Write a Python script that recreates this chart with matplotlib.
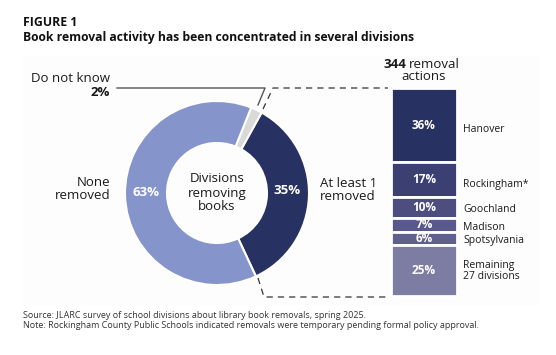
import matplotlib
matplotlib.use('Agg')
import matplotlib.pyplot as plt
from matplotlib.patches import Rectangle

plt.rcParams['font.family'] = ['Open Sans', 'DejaVu Sans']

# donut: share of divisions
donut_labels = ['At least 1 removed', 'Do not know', 'None removed']
donut_values = [35, 2, 63]
donut_colors = ['#283262', '#d9d9d9', '#8595cb']

# stacked bar: 344 removal actions
bar_names = ['Hanover', 'Rockingham*', 'Goochland', 'Madison', 'Spotsylvania', 'Remaining\n27 divisions']
bar_values = [36, 17, 10, 7, 6, 25]
bar_colors = ['#283262', '#3c3f72', '#4d4e7f', '#58588a', '#60608f', '#7d7ca3']

W, H = 556, 355
fig = plt.figure(figsize=(W / 100, H / 100), dpi=100)
ax = fig.add_axes([0, 0, 1, 1])

def Y(y):
    return H - y

# faint panel behind the chart
ax.add_patch(Rectangle((22, Y(305)), 518, 249, facecolor='#fdfdfd', edgecolor='none', zorder=0))

# donut
cx, cy, r = 217, 193, 92
ax.pie(donut_values, colors=donut_colors, center=(cx, Y(cy)), radius=r,
       startangle=-65, counterclock=True,
       wedgeprops=dict(width=42, edgecolor='white', linewidth=1.5))

ax.text(cx, Y(cy), 'Divisions\nremoving\nbooks', ha='center', va='center',
        fontsize=9.5, linespacing=1.1, color='#1a1a1a')
ax.text(146, Y(192), '%d%%' % donut_values[2], ha='center', va='center',
        fontsize=9.5, fontweight='bold', color='white')
ax.text(287, Y(191), '%d%%' % donut_values[0], ha='center', va='center',
        fontsize=9.5, fontweight='bold', color='white')
ax.text(110, Y(189), 'None\nremoved', ha='right', va='center',
        fontsize=9.5, linespacing=1.05, color='#1a1a1a')
ax.text(320, Y(190), 'At least 1\nremoved', ha='left', va='center',
        fontsize=9.5, linespacing=1.05, color='#1a1a1a')
ax.text(110, Y(78), 'Do not know', ha='right', va='center', fontsize=9.5, color='#1a1a1a')
ax.text(110, Y(92), '%d%%' % donut_values[1], ha='right', va='center', fontsize=9.5,
        fontweight='bold', color='#1a1a1a')

# leader for "Do not know"
ax.plot([117, 265, 258], [Y(88), Y(88), Y(105)], color='#555555', lw=1.0, zorder=5)

# dashed connectors to the bar
ax.plot([263, 273, 388], [Y(109), Y(88), Y(88)], color='#333333', lw=0.9, ls=(0, (5, 4)))
ax.plot([258, 264, 388], [Y(278), Y(297), Y(297)], color='#333333', lw=0.9, ls=(0, (5, 4)))

# stacked bar
bar_x, bar_w = 424, 66
top, total_h = Y(88), 208
scale = total_h / sum(bar_values)
heights = [v * scale for v in bar_values]
bottoms = []
cur = top
for h in heights:
    cur -= h
    bottoms.append(cur)
ax.bar([bar_x] * len(bar_values), heights, width=bar_w, bottom=bottoms,
       color=bar_colors, edgecolor='white', linewidth=2)

label_y = [129, 184, 210, 227, 240, 271]
for v, b, h, name, ly in zip(bar_values, bottoms, heights, bar_names, label_y):
    ax.text(bar_x, b + h / 2, '%d%%' % v, ha='center', va='center',
            fontsize=8.5, fontweight='bold', color='white')
    ax.text(463, Y(ly), name, ha='left', va='center', fontsize=7.5,
            linespacing=1.1, color='#1a1a1a')

ax.text(406, Y(65), '344', ha='right', va='center', fontsize=9.5, fontweight='bold', color='#1a1a1a')
ax.text(409, Y(65), 'removal', ha='left', va='center', fontsize=9.5, color='#1a1a1a')
ax.text(424, Y(77), 'actions', ha='center', va='center', fontsize=9.5, color='#1a1a1a')

# titles
ax.text(23, Y(22), 'FIGURE 1', ha='left', va='center', fontsize=8.8, fontweight='bold', color='#111111')
ax.text(23, Y(38), 'Book removal activity has been concentrated in several divisions',
        ha='left', va='center', fontsize=8.7, fontweight='bold', color='#111111')

# footer
ax.text(23, Y(315), 'Source: JLARC survey of school divisions about library book removals, spring 2025.',
        ha='left', va='center', fontsize=6.5, color='#333333')
ax.text(23, Y(325), 'Note: Rockingham County Public Schools indicated removals were temporary pending formal policy approval.',
        ha='left', va='center', fontsize=6.5, color='#333333')

ax.set_xlim(0, W)
ax.set_ylim(0, H)
ax.set_aspect('auto')
ax.axis('off')

fig.savefig('out.png', dpi=100, facecolor='white')
